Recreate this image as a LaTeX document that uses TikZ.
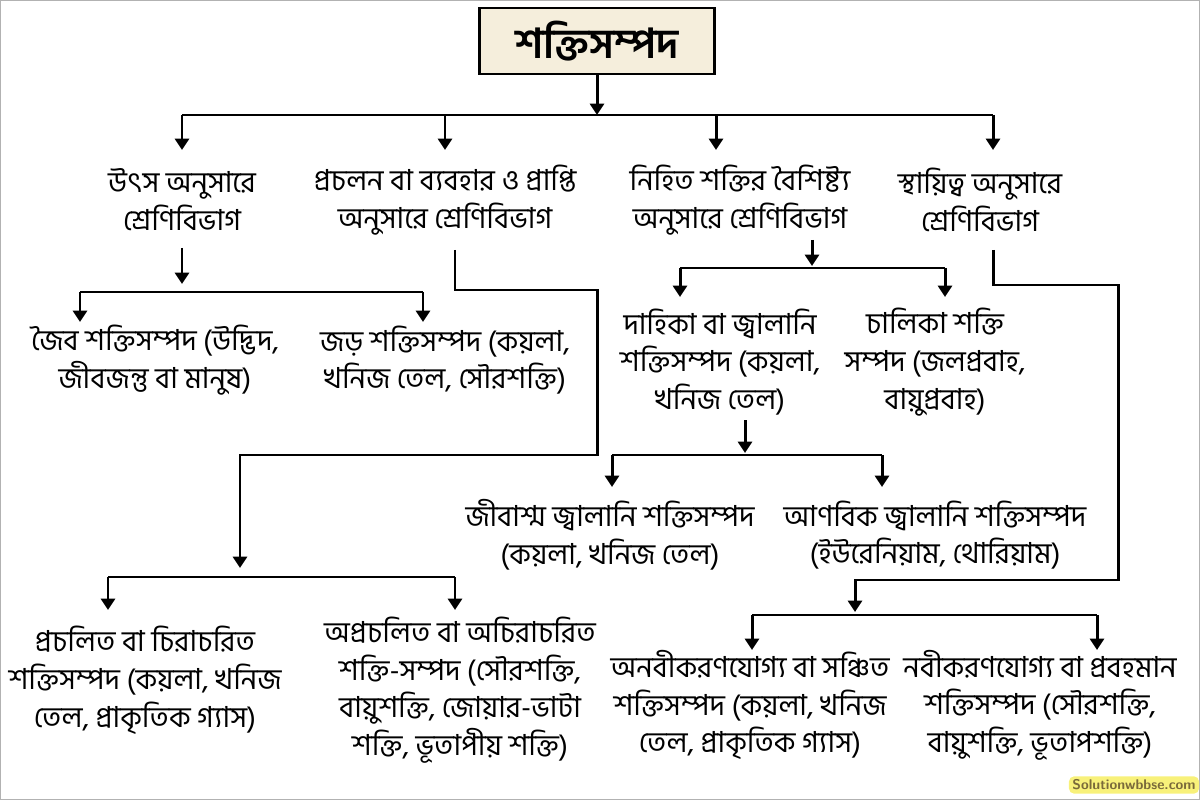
\documentclass[tikz,border=0pt]{standalone}
\usepackage{fontspec}
\newfontfamily\bnfont[Script=Bengali]{Hind Siliguri}
\usepackage{tikz}
\usetikzlibrary{arrows.meta,positioning,calc}
\definecolor{titlefill}{HTML}{F5EEDC}
\definecolor{markfill}{HTML}{F8F17A}
\definecolor{markText}{HTML}{7A6A3A}
\begin{document}
\begin{tikzpicture}[x=0.02cm, y=-0.02cm,
    label/.style={align=center, font=\bnfont\fontsize{16.5}{21.5}\selectfont, inner sep=1pt},
    link/.style={line width=1.7pt},
    arr/.style={link, -{Triangle[width=8pt,length=6.5pt]}},
]
    \useasboundingbox (0,0) rectangle (1200,800);
    \draw[line width=0.8pt, gray!60] (0,0) rectangle (1200,800);

    % title
    \node[draw, line width=1.7pt, fill=titlefill, minimum width=235*0.02cm, minimum height=66*0.02cm,
          font=\bnfont\bfseries\fontsize{23.5}{26}\selectfont] (root) at (597,41) {শক্তিসম্পদ};
    \coordinate (bus0) at (597,115);
    \draw[arr] (root.south) -- (bus0);
    \draw[link] (182,115) -- (993,115);

    % first level
    \node[label] (src)  at (182,200) {উৎস অনুসারে\\শ্রেণিবিভাগ};
    \node[label] (use)  at (445,200) {প্রচলন বা ব্যবহার ও প্রাপ্তি\\অনুসারে শ্রেণিবিভাগ};
    \node[label] (prop) at (740,200) {নিহিত শক্তির বৈশিষ্ট্য\\অনুসারে শ্রেণিবিভাগ};
    \node[label] (dur)  at (980,200) {স্থায়িত্ব অনুসারে\\শ্রেণিবিভাগ};
    \foreach \x in {182,445,716,993}
        \draw[arr] (\x,115) -- (\x,150);

    % by source
    \node[label] (bio)  at (155,360) {জৈব শক্তিসম্পদ (উদ্ভিদ,\\জীবজন্তু বা মানুষ)};
    \node[label] (inert) at (445,360) {জড় শক্তিসম্পদ (কয়লা,\\খনিজ তেল, সৌরশক্তি)};
    \draw[arr] (182,248) -- (182,284);
    \draw[link] (80,292) -- (423,292);
    \draw[arr] (80,292) -- (80,322);
    \draw[arr] (423,292) -- (423,322);

    % by use
    \node[label] (conv)   at (145,680) {প্রচলিত বা চিরাচরিত\\শক্তিসম্পদ (কয়লা, খনিজ\\তেল, প্রাকৃতিক গ্যাস)};
    \node[label] (nconv)  at (460,690) {অপ্রচলিত বা অচিরাচরিত\\শক্তি-সম্পদ (সৌরশক্তি,\\বায়ুশক্তি, জোয়ার-ভাটা\\শক্তি, ভূতাপীয় শক্তি)};
    \draw[link] (455,250) |- (597,290) -- (597,455) -| (240,500);
    \draw[arr] (240,500) -- (240,568);
    \draw[link] (108,577) -- (455,577);
    \draw[arr] (108,577) -- (108,610);
    \draw[arr] (455,577) -- (455,610);

    % by property
    \node[label] (fuel)  at (720,362) {দাহিকা বা জ্বালানি\\শক্তিসম্পদ (কয়লা,\\খনিজ তেল)};
    \node[label] (drive) at (935,362) {চালিকা শক্তি\\সম্পদ (জলপ্রবাহ,\\বায়ুপ্রবাহ)};
    \draw[arr] (812,240) -- (812,266);
    \draw[link] (680,268) -- (945,268);
    \draw[arr] (680,268) -- (680,297);
    \draw[arr] (945,268) -- (945,297);

    \node[label] (fossil)  at (610,535) {জীবাশ্ম জ্বালানি শক্তিসম্পদ\\(কয়লা, খনিজ তেল)};
    \node[label] (nuclear) at (935,535) {আণবিক জ্বালানি শক্তিসম্পদ\\(ইউরেনিয়াম, থোরিয়াম)};
    \draw[arr] (745,420) -- (745,453);
    \draw[link] (612,455) -- (882,455);
    \draw[arr] (612,455) -- (612,487);
    \draw[arr] (882,455) -- (882,487);

    % by permanence
    \node[label] (nonren) at (750,705) {অনবীকরণযোগ্য বা সঞ্চিত\\শক্তিসম্পদ (কয়লা, খনিজ\\তেল, প্রাকৃতিক গ্যাস)};
    \node[label] (ren)    at (1040,705) {নবীকরণযোগ্য বা প্রবহমান\\শক্তিসম্পদ (সৌরশক্তি,\\বায়ুশক্তি, ভূতাপশক্তি)};
    \draw[link] (993,250) |- (1118,285) -- (1118,580) -| (855,595);
    \draw[arr] (855,580) -- (855,612);
    \draw[link] (752,615) -- (1097,615);
    \draw[arr] (752,615) -- (752,650);
    \draw[arr] (1097,615) -- (1097,650);

    % watermark
    \node[fill=markfill, rounded corners=3pt, inner sep=2pt, text=markText,
          font=\fontsize{8}{9}\selectfont\bfseries\sffamily] (mark) at (1134,785) {Solutionwbbse.com};
\end{tikzpicture}
\end{document}
